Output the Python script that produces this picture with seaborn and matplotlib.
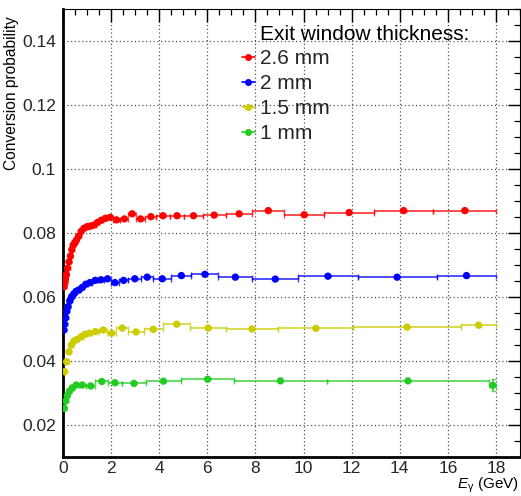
import numpy as np
import pandas as pd
import matplotlib
matplotlib.use("Agg")
import matplotlib.pyplot as plt
import seaborn as sns
from matplotlib.lines import Line2D
from matplotlib.ticker import MultipleLocator, FixedLocator

# ---- data: photon conversion probability vs. photon energy ----
thickness_labels = ["2.6 mm", "2 mm", "1.5 mm", "1 mm"]
series_colors = ["#ff0000", "#0000ff", "#cccc00", "#22cc22"]

# energy bin edges (GeV) and measured probabilities per exit-window thickness
edges_2p6 = [0.03, 0.06, 0.085, 0.12, 0.165, 0.215, 0.28, 0.34, 0.39, 0.455, 0.52,
             0.60, 0.70, 0.81, 0.94, 1.08, 1.22, 1.36, 1.51, 1.68, 1.85, 2.07, 2.38,
             2.72, 3.03, 3.42, 3.88, 4.43, 5.05, 5.80, 6.77, 7.87, 9.20, 10.86, 12.93,
             15.39, 18.02]
prob_2p6 = [0.0632, 0.0645, 0.0655, 0.0670, 0.0690, 0.0710, 0.0728, 0.0748, 0.0762,
            0.0770, 0.0778, 0.0790, 0.0805, 0.0815, 0.0820, 0.0822, 0.0825, 0.0833,
            0.0840, 0.0846, 0.0849, 0.0841, 0.0844, 0.0860, 0.0844, 0.0851, 0.0854,
            0.0854, 0.0854, 0.0856, 0.0860, 0.0870, 0.0857, 0.0864, 0.0870, 0.0870]
err_2p6 = [0.0003] * 29 + [0.0003, 0.0003, 0.0004, 0.0003, 0.0003, 0.0003, 0.0004]

edges_2 = [0.03, 0.05, 0.09, 0.13, 0.18, 0.24, 0.32, 0.40, 0.50, 0.60, 0.72, 0.88,
           1.02, 1.22, 1.46, 1.70, 2.00, 2.32, 2.72, 3.25, 3.75, 4.50, 5.34, 6.46,
           7.87, 9.78, 12.25, 15.53, 18.02]
prob_2 = [0.0497, 0.0515, 0.0535, 0.0555, 0.0570, 0.0588, 0.0601, 0.0610, 0.0618,
          0.0622, 0.0630, 0.0640, 0.0645, 0.0652, 0.0654, 0.0657, 0.0645, 0.0652,
          0.0657, 0.0662, 0.0657, 0.0667, 0.0671, 0.0662, 0.0656, 0.0665, 0.0662,
          0.0667]
err_2 = [0.0003] * 27 + [0.0004]

edges_1p5 = [0.03, 0.10, 0.20, 0.30, 0.40, 0.50, 0.68, 0.83, 0.98, 1.20, 1.50, 1.85,
             2.20, 2.72, 3.35, 4.15, 5.30, 6.77, 8.95, 12.07, 16.54, 18.02]
prob_1p5 = [0.0367, 0.0398, 0.0429, 0.0450, 0.0462, 0.0468, 0.0476, 0.0483, 0.0487,
            0.0492, 0.0497, 0.0487, 0.0503, 0.0491, 0.0499, 0.0515, 0.0503, 0.0500,
            0.0502, 0.0506, 0.0512]
err_1p5 = [0.0003] * 20 + [0.0005]

edges_1 = [0.03, 0.08, 0.14, 0.22, 0.32, 0.45, 0.65, 0.95, 1.35, 1.87, 2.45, 3.45,
           4.90, 7.12, 10.96, 17.72, 18.02]
prob_1 = [0.0252, 0.0275, 0.0292, 0.0306, 0.0316, 0.0325, 0.0325, 0.0322, 0.0336,
          0.0332, 0.0330, 0.0337, 0.0343, 0.0338, 0.0338, 0.0324]
err_1 = [0.0003] * 15 + [0.0019]

x_ticks = [0, 2, 4, 6, 8, 10, 12, 14, 16, 18]
y_ticks = [0.02, 0.04, 0.06, 0.08, 0.1, 0.12, 0.14]

# ---- build long-form table ----
frames = []
for lab, edges, prob, err in zip(thickness_labels,
                                 [edges_2p6, edges_2, edges_1p5, edges_1],
                                 [prob_2p6, prob_2, prob_1p5, prob_1],
                                 [err_2p6, err_2, err_1p5, err_1]):
    e = np.asarray(edges)
    frames.append(pd.DataFrame({
        "thickness": lab,
        "energy": 0.5 * (e[:-1] + e[1:]),
        "halfwidth": 0.5 * (e[1:] - e[:-1]),
        "prob": prob,
        "err": err,
    }))
df = pd.concat(frames, ignore_index=True)

# ---- style ----
sns.set_theme(style="white")
plt.rcParams["font.family"] = ["Liberation Sans", "DejaVu Sans"]
plt.rcParams["mathtext.fontset"] = "custom"
plt.rcParams["mathtext.rm"] = "Liberation Sans"
plt.rcParams["mathtext.it"] = "Liberation Sans:italic"

W, H = 521, 496
fig = plt.figure(figsize=(W / 100, H / 100), dpi=100)
ax = fig.add_axes([63 / W, 1 - 457 / H, (520 - 63) / W, (457 - 9) / H])

palette = dict(zip(thickness_labels, series_colors))

for lab in thickness_labels:
    sub = df[df["thickness"] == lab]
    ax.errorbar(sub["energy"], sub["prob"], xerr=sub["halfwidth"], yerr=sub["err"],
                fmt="none", ecolor=palette[lab], elinewidth=1.3, capsize=1.8,
                capthick=1.0, alpha=0.75, zorder=3)

sns.scatterplot(data=df, x="energy", y="prob", hue="thickness", palette=palette,
                s=28, linewidth=0, legend=False, ax=ax, zorder=4)

ax.set_xlim(0, 19)
ax.set_ylim(0.01, 0.15)
ax.xaxis.set_major_locator(FixedLocator(x_ticks))
ax.xaxis.set_minor_locator(MultipleLocator(0.5))
ax.yaxis.set_major_locator(FixedLocator(y_ticks))
ax.yaxis.set_minor_locator(MultipleLocator(0.005))
ax.set_xticklabels([f"{v:g}" for v in x_ticks])
ax.set_yticklabels([f"{v:g}" for v in y_ticks])
ax.tick_params(which="both", direction="in", top=True, right=True, color="black",
               labelsize=12.5)
ax.tick_params(axis="x", pad=3)
ax.tick_params(axis="y", pad=5)
ax.tick_params(which="major", length=9, width=1.0)
ax.tick_params(which="minor", length=4.5, width=0.9)
ax.set_xlabel("")
ax.set_ylabel("")

ax.grid(True, which="major", linestyle=(0, (1, 2)), color="#555555", linewidth=0.9)
ax.set_axisbelow(True)
for side in ["left", "bottom"]:
    ax.spines[side].set_linewidth(2.0)
    ax.spines[side].set_color("black")
for side in ["top", "right"]:
    ax.spines[side].set_linewidth(0.8)
    ax.spines[side].set_color("black")

# axis titles
fig.text(12 / W, 1 - 16 / H, "Conversion probability", rotation=90,
         ha="center", va="top", fontsize=11.2, color="black")
fig.text(519 / W, 1 - 485 / H, r"$\mathit{E}_{\mathrm{\gamma}}$ (GeV)",
         ha="right", va="center", fontsize=11, color="black")

# legend
fig.text(260 / W, 1 - 34 / H, "Exit window thickness:", ha="left", va="center",
         fontsize=15, color="black")
handles = [Line2D([], [], color=palette[lab], marker="o", markersize=4, lw=1.2)
           for lab in thickness_labels]
leg = ax.legend(handles, thickness_labels, loc="upper left",
                bbox_to_anchor=(242 / W, 1 - 49 / H), bbox_transform=fig.transFigure,
                frameon=False, fontsize=15, handlelength=0.6, handletextpad=0.25,
                labelspacing=0.29, borderpad=0, borderaxespad=0)

fig.savefig("out.png", dpi=100, facecolor="white")
